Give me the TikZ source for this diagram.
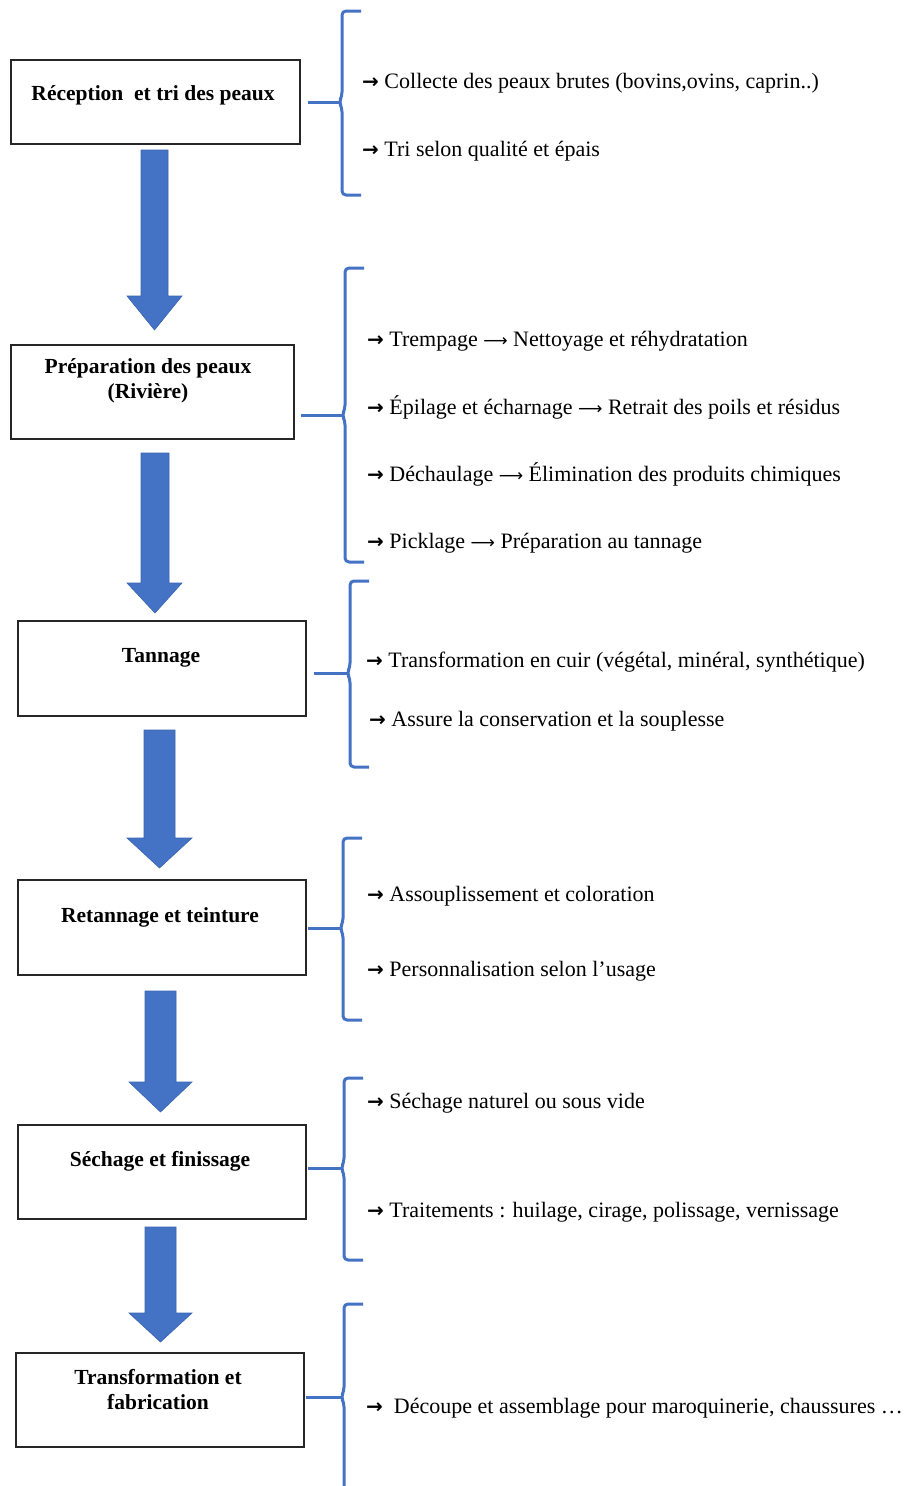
\documentclass[tikz,border=0pt]{standalone}
\usepackage{fontspec}
\setmainfont{Liberation Serif}
\newfontfamily\symf{DejaVu Sans}
\usetikzlibrary{positioning}
\definecolor{obl}{HTML}{4472C4}
\definecolor{obld}{HTML}{3A64B0}
\newcommand{\bul}{{\symf\bfseries\fontsize{20}{20}\selectfont →}}
\newcommand{\lar}{{\symf\fontsize{17}{17}\selectfont ⟶}}
\tikzset{
  stepbox/.style={draw=black!85, line width=1.3pt, inner sep=0pt},
  boxtxt/.style={font=\bfseries\fontsize{21.5}{25}\selectfont, align=center, inner sep=0pt},
  sidetxt/.style={font=\fontsize{22}{26}\selectfont, anchor=west, inner sep=0pt},
  bracel/.style={draw=obl, line width=3pt, rounded corners=4pt, line join=round},
  conn/.style={draw=obl, line width=3pt},
  blockarr/.style={fill=obl, draw=obld, line width=0.6pt},
}
\newcommand{\bracepath}[4]{% x, ytop, ybot, ymid
  \draw[bracel] (#1+19,#2) -- (#1,#2) -- (#1,#4-6) -- (#1-3,#4) -- (#1,#4+6) -- (#1,#3) -- (#1+19,#3);
}
\begin{document}
\begin{tikzpicture}[x=1pt,y=-1pt]
\useasboundingbox (0,0) rectangle (920,1486);
% boxes
\node[stepbox, minimum width=289pt, minimum height=84pt] (b1) at (155.5,102) {};
\node[stepbox, minimum width=283pt, minimum height=94pt] (b2) at (152.5,392) {};
\node[stepbox, minimum width=288pt, minimum height=95pt] (b3) at (162,668.5) {};
\node[stepbox, minimum width=288pt, minimum height=95pt] (b4) at (162,927.5) {};
\node[stepbox, minimum width=288pt, minimum height=94pt] (b5) at (162,1172) {};
\node[stepbox, minimum width=288pt, minimum height=94pt] (b6) at (160,1400) {};
% box texts
\node[boxtxt] (t1) at (153,95) {Réception\ \ et tri des peaux};
\node[boxtxt] (t2) at (148,381) {Préparation des peaux\\(Rivière)};
\node[boxtxt] (t3) at (161,658) {Tannage};
\node[boxtxt] (t4) at (160,917) {Retannage et teinture};
\node[boxtxt] (t5) at (160,1161) {Séchage et finissage};
\node[boxtxt] (t6) at (158,1389.5) {Transformation et\\fabrication};
% block arrows
\draw[blockarr] (141,150) -- (168,150) -- (168,296) -- (182,296) -- (154.5,330) -- (127,296) -- (141,296) -- cycle;
\draw[blockarr] (141,453) -- (169,453) -- (169,583) -- (182,583) -- (155,613) -- (127,583) -- (141,583) -- cycle;
\draw[blockarr] (144,730) -- (175,730) -- (175,838) -- (192,838) -- (159.5,868) -- (127,838) -- (144,838) -- cycle;
\draw[blockarr] (145,991) -- (176,991) -- (176,1082) -- (192,1082) -- (160.5,1112) -- (129,1082) -- (145,1082) -- cycle;
\draw[blockarr] (145,1227) -- (176,1227) -- (176,1313) -- (192,1313) -- (160.5,1342) -- (129,1313) -- (145,1313) -- cycle;
% braces
\bracepath{342}{11}{195}{102}
\bracepath{345}{268}{562}{415}
\bracepath{350}{581}{767}{673}
\bracepath{343}{838}{1020}{928}
\bracepath{344}{1078}{1260}{1168}
\bracepath{344}{1304}{1492}{1397}
\coordinate (c1) at (339,102);
\coordinate (c2) at (342,415);
\coordinate (c3) at (347,673);
\coordinate (c4) at (340,928);
\coordinate (c5) at (341,1168);
\coordinate (c6) at (341,1397);
\draw[conn] ([xshift=7pt]b1.east |- c1) -- (c1);
\draw[conn] ([xshift=6pt]b2.east |- c2) -- (c2);
\draw[conn] ([xshift=7pt]b3.east |- c3) -- (c3);
\draw[conn] ([xshift=1pt]b4.east |- c4) -- (c4);
\draw[conn] ([xshift=1pt]b5.east |- c5) -- (c5);
\draw[conn] ([xshift=1pt]b6.east |- c6) -- (c6);
% side texts
\node[sidetxt] (s11) at (362,83) {\bul\ Collecte des peaux brutes (bovins,ovins, caprin..)};
\node[sidetxt] (s12) at (362,151) {\bul\ Tri selon qualité et épais};
\node[sidetxt] (s21) at (367,341) {\bul\ Trempage \lar\ Nettoyage et réhydratation};
\node[sidetxt] (s22) at (367,407) {\bul\ Épilage et écharnage \lar\ Retrait des poils et résidus};
\node[sidetxt] (s23) at (367,474) {\bul\ Déchaulage \lar\ Élimination des produits chimiques};
\node[sidetxt] (s24) at (367,543) {\bul\ Picklage \lar\ Préparation au tannage};
\node[sidetxt] (s31) at (366,662) {\bul\ Transformation en cuir (végétal, minéral, synthétique)};
\node[sidetxt] (s32) at (369,721) {\bul\ Assure la conservation et la souplesse};
\node[sidetxt] (s41) at (367,896) {\bul\ Assouplissement et coloration};
\node[sidetxt] (s42) at (367,971) {\bul\ Personnalisation selon l'usage};
\node[sidetxt] (s51) at (367,1103) {\bul\ Séchage naturel ou sous vide};
\node[sidetxt] (s52) at (367,1212) {\bul\ Traitements : huilage, cirage, polissage, vernissage};
\node[sidetxt] (s61) at (366,1408) {\bul\ \ Découpe et assemblage pour maroquinerie, chaussures …};
\end{tikzpicture}
\end{document}
